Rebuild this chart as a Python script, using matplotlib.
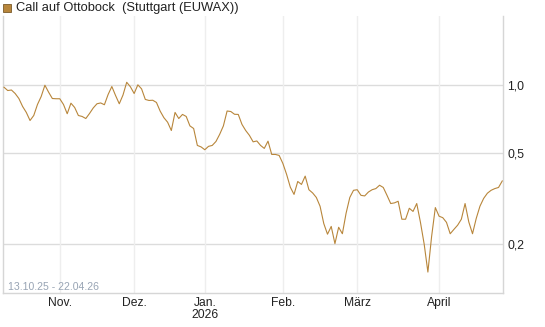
import numpy as np
import matplotlib
matplotlib.use('Agg')
import matplotlib.pyplot as plt
from matplotlib.patches import Rectangle

# daily closing values, 13.10.25 - 22.04.26 (one per trading day)
values = [0.973, 0.941, 0.946, 0.913, 0.868, 0.801, 0.754, 0.695, 0.731, 0.817,
          0.886, 0.993, 0.925, 0.868, 0.866, 0.866, 0.817, 0.744, 0.828, 0.793,
          0.731, 0.724, 0.709, 0.746, 0.789, 0.823, 0.830, 0.815, 0.904, 0.980,
          0.895, 0.823, 0.899, 1.023, 0.977, 0.913, 0.997, 0.957, 0.860, 0.851,
          0.853, 0.834, 0.764, 0.715, 0.683, 0.628, 0.754, 0.709, 0.739, 0.724,
          0.658, 0.641, 0.540, 0.532, 0.517, 0.535, 0.540, 0.562, 0.604, 0.658,
          0.765, 0.761, 0.740, 0.739, 0.668, 0.628, 0.598, 0.560, 0.565, 0.540,
          0.524, 0.564, 0.493, 0.493, 0.488, 0.450, 0.403, 0.354, 0.329, 0.375,
          0.364, 0.396, 0.345, 0.334, 0.319, 0.292, 0.245, 0.220, 0.238, 0.200,
          0.236, 0.221, 0.272, 0.319, 0.343, 0.345, 0.326, 0.324, 0.337, 0.345,
          0.349, 0.361, 0.353, 0.326, 0.300, 0.302, 0.307, 0.256, 0.256, 0.286,
          0.277, 0.300, 0.248, 0.199, 0.150, 0.215, 0.288, 0.264, 0.260, 0.248,
          0.221, 0.231, 0.241, 0.256, 0.300, 0.249, 0.221, 0.258, 0.292, 0.316,
          0.333, 0.343, 0.349, 0.353, 0.377]

month_idx = [15, 35, 54, 75, 95, 117]
month_labels = ['Nov.', 'Dez.', 'Jan.\n2026', 'Feb.', 'März', 'April']
y_ticks = [0.2, 0.5, 1.0]
y_labels = ['0,2', '0,5', '1,0']
series_name = 'Call auf Ottobock  (Stuttgart (EUWAX))'
date_range = '13.10.25 - 22.04.26'

line_color = '#b8863b'
plt.rcParams['font.family'] = ['Liberation Sans', 'DejaVu Sans']

fig = plt.figure(figsize=(5.45, 3.27), dpi=100)
ax = fig.add_axes([3 / 545, 1 - 293.3 / 327, 500 / 545, (293.3 - 16) / 327])

x = np.arange(len(values))
ax.plot(x, values, color=line_color, linewidth=0.8, zorder=3)

ax.set_yscale('log')
ax.set_ylim(0.121, 2.0)
ax.set_xlim(-0.27, 134.2)

ax.set_yticks(y_ticks)
ax.set_yticklabels(y_labels)
ax.minorticks_off()
ax.yaxis.tick_right()
ax.set_xticks(month_idx)
ax.set_xticklabels(month_labels, linespacing=0.95)
ax.tick_params(axis='both', length=0, labelsize=8.7, colors='#222222')
ax.tick_params(axis='y', pad=3)
ax.tick_params(axis='x', pad=3)

# grid: horizontal stronger than vertical
for yv in y_ticks:
    ax.axhline(yv, color='#dcdcdc', linewidth=1.0, zorder=1)
for xv in month_idx:
    ax.axvline(xv, color='#eeeeee', linewidth=1.0, zorder=1)

for side in ['left', 'right', 'bottom']:
    ax.spines[side].set_color('#d6d6d6')
    ax.spines[side].set_linewidth(1.0)
ax.spines['top'].set_visible(False)

ax.text(0.01, 0.006, date_range, transform=ax.transAxes, fontsize=7.6,
        color='#98a4b4', ha='left', va='bottom')

# legend
fig.patches.append(Rectangle((3 / 545, 1 - 12 / 327), 8 / 545, 8 / 327,
                             transform=fig.transFigure, facecolor=line_color,
                             edgecolor='#7a5a2a', linewidth=0.6))
fig.text(16 / 545, 1 - 8 / 327, series_name, fontsize=9.3, color='#222222',
         ha='left', va='center')

fig.savefig('out.png', dpi=100)
